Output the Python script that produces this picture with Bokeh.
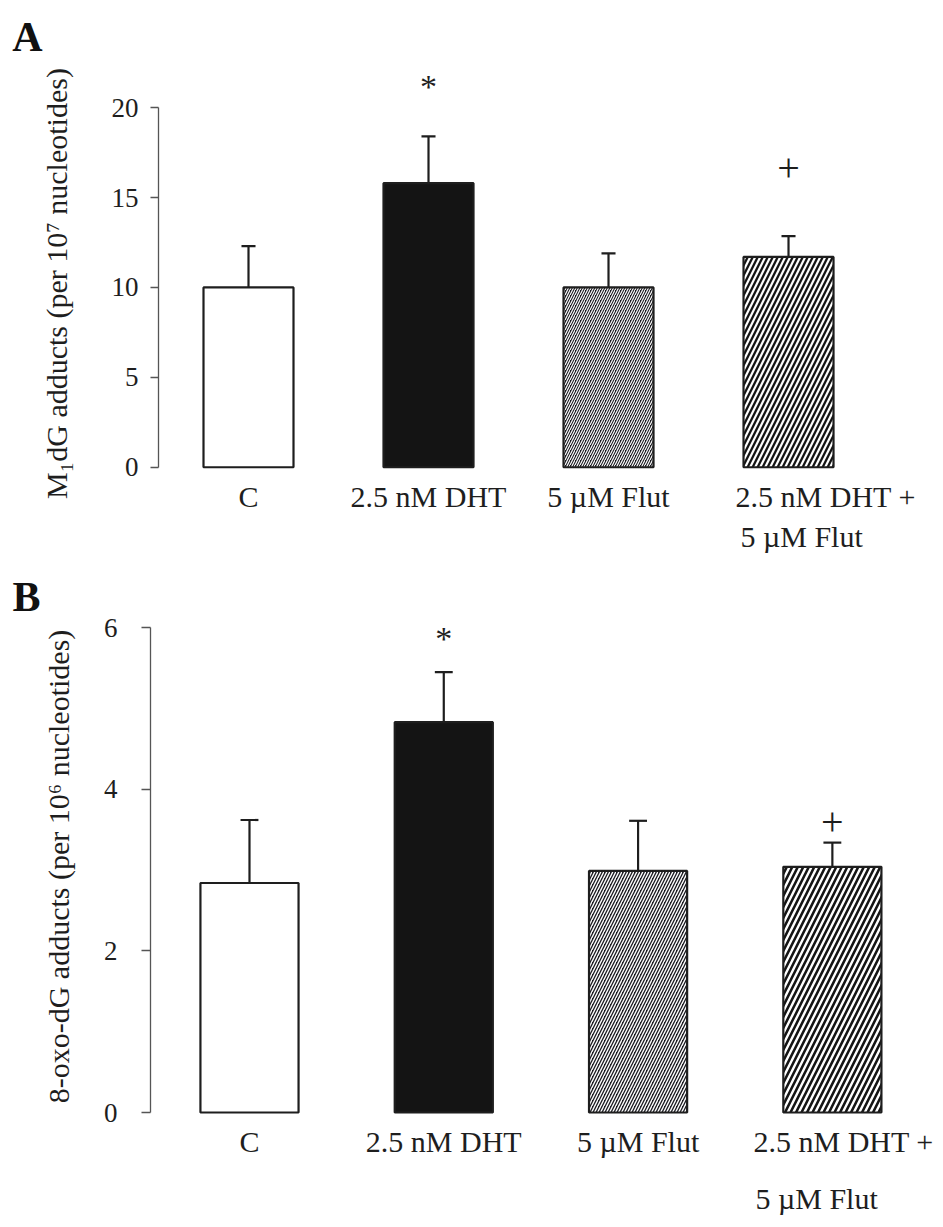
import math
from bokeh.plotting import figure
from bokeh.layouts import column, row
from bokeh.models import Range1d, FixedTicker, ColumnDataSource
from bokeh.embed import file_html
from bokeh.resources import INLINE
from bokeh.core.properties import value

# ---------------- data ----------------
categories = ["C", "2.5 nM DHT", "5 µM Flut", "2.5 nM DHT + 5 µM Flut"]
label_line1 = ["C", "2.5 nM DHT", "5 µM Flut", "2.5 nM DHT +"]
label_line2 = ["", "", "", "5 µM Flut"]

m1dg_mean = [10.0, 15.8, 10.0, 11.7]
m1dg_sem = [2.3, 2.6, 1.9, 1.15]
m1dg_ticks = [0, 5, 10, 15, 20]

oxo_mean = [2.84, 4.83, 2.99, 3.04]
oxo_sem = [0.78, 0.62, 0.62, 0.30]
oxo_ticks = [0, 2, 4, 6]

significance = ["", "*", "", "+"]

title_a = "M\u2081dG adducts (per 10\u2077 nucleotides)"
title_b = "8-oxo-dG adducts (per 10\u2076 nucleotides)"

# ---------------- styles ----------------
SERIF = "Liberation Serif"
INK = "#1e1e1e"
fills = ["#ffffff", "#141414", "#1c1c22", "#141414"]
hatches = [" ", " ", "/", "/"]
sig_sizes = {"*": "34px", "+": "40px"}
STRIP_W = 100


def text_strip(height, letter, letter_xy, ytitle, title_xy):
    s = figure(width=STRIP_W, height=height, output_backend="svg", toolbar_location=None,
               x_range=Range1d(0, STRIP_W), y_range=Range1d(0, height),
               x_axis_location=None, y_axis_location=None,
               min_border_left=0, min_border_right=0, min_border_top=0, min_border_bottom=0)
    s.outline_line_color = None
    s.grid.visible = False
    s.text(x=[letter_xy[0]], y=[letter_xy[1]], text=[letter], text_font=value(SERIF),
           text_font_size="42px", text_font_style="bold", text_color="#111111",
           text_align="center", text_baseline="alphabetic")
    s.text(x=[title_xy[0]], y=[title_xy[1]], text=[ytitle], angle=math.pi / 2,
           text_font=value(SERIF), text_font_size="30px", text_color=INK,
           text_align="center", text_baseline="middle")
    return s


def make_panel(means, sems, ticks, height, x_start, x_end, y_start, y_end,
               border_left, tick_out, standoff, hatch_scales, hatch_weights, cap_half,
               sig_y, lab1_y, lab2_y, last_left1, last_left2, bar_width):
    n = len(categories)
    xs = list(range(n))
    p = figure(width=943 - STRIP_W, height=height, output_backend="svg", toolbar_location=None,
               x_range=Range1d(x_start, x_end), y_range=Range1d(y_start, y_end),
               x_axis_location=None, min_border_left=border_left, min_border_right=0,
               min_border_top=0, min_border_bottom=0)
    p.outline_line_color = None
    p.grid.visible = False

    ax = p.yaxis[0]
    ax.bounds = (ticks[0], ticks[-1])
    ax.ticker = FixedTicker(ticks=ticks)
    ax.minor_tick_line_color = None
    ax.major_tick_in = 0
    ax.major_tick_out = tick_out
    ax.axis_line_color = "#555555"
    ax.axis_line_width = 1.3
    ax.major_tick_line_color = "#555555"
    ax.major_tick_line_width = 1.3
    ax.major_label_standoff = standoff
    ax.major_label_text_font = SERIF
    ax.major_label_text_font_size = "27px"
    ax.major_label_text_color = INK

    src = ColumnDataSource(dict(
        x=xs, top=means, fill=fills, hatch=hatches,
        hscale=hatch_scales, hweight=hatch_weights,
        err=[m + s for m, s in zip(means, sems)],
        cl=[x - cap_half for x in xs], cr=[x + cap_half for x in xs],
    ))
    p.vbar(x="x", top="top", bottom=0, width=bar_width, source=src,
           fill_color="fill", line_color=INK, line_width=2.2,
           hatch_pattern="hatch", hatch_color="white", hatch_scale="hscale",
           hatch_weight="hweight")
    p.segment(x0="x", y0="top", x1="x", y1="err", source=src, line_color=INK, line_width=2.2)
    p.segment(x0="cl", y0="err", x1="cr", y1="err", source=src, line_color=INK, line_width=2.2)

    for i, s in enumerate(significance):
        if s:
            p.text(x=[xs[i]], y=[sig_y[i]], text=[s], text_font=value(SERIF),
                   text_font_size=sig_sizes[s], text_color=INK, text_align="center",
                   text_baseline="middle")

    for i in range(n):
        if i < n - 1:
            p.text(x=[xs[i]], y=[lab1_y], text=[label_line1[i]], text_font=value(SERIF),
                   text_font_size="30px", text_color=INK, text_align="center",
                   text_baseline="alphabetic")
        else:
            p.text(x=[xs[i] - last_left1], y=[lab1_y], text=[label_line1[i]],
                   text_font=value(SERIF), text_font_size="30px", text_color=INK,
                   text_align="left", text_baseline="alphabetic")
            p.text(x=[xs[i] - last_left2], y=[lab2_y], text=[label_line2[i]],
                   text_font=value(SERIF), text_font_size="30px", text_color=INK,
                   text_align="left", text_baseline="alphabetic")
    return p


HA, HB = 566, 661

sa = text_strip(HA, "A", (27, HA - 36), title_a, (56, HA - 283))
pa = make_panel(m1dg_mean, m1dg_sem, m1dg_ticks, HA,
                -0.5, 3.861, -5.52, 25.96, 158 - STRIP_W, 8, 12,
                [5, 5, 5, 10], [1.2, 1.2, 1.2, 2.2], 0.039,
                [None, 21.2, None, 16.65],
                -1.63, -3.87, 0.294, 0.267, 0.5)

sb = text_strip(HB, "B", (26, HB - 30), title_b, (58, HB - 300))
pb = make_panel(oxo_mean, oxo_sem, oxo_ticks, HB,
                -0.5095, 3.572, -1.423, 6.757, 150 - STRIP_W, 9, 24,
                [6, 6, 6, 11], [1.4, 1.4, 1.4, 2.4], 0.046,
                [None, 5.87, None, 3.59],
                -0.36, -1.06, 0.406, 0.396, 0.505)

layout = column(row(sa, pa, spacing=0), row(sb, pb, spacing=0), spacing=0)
open("out.html", "w").write(file_html(layout, INLINE))
